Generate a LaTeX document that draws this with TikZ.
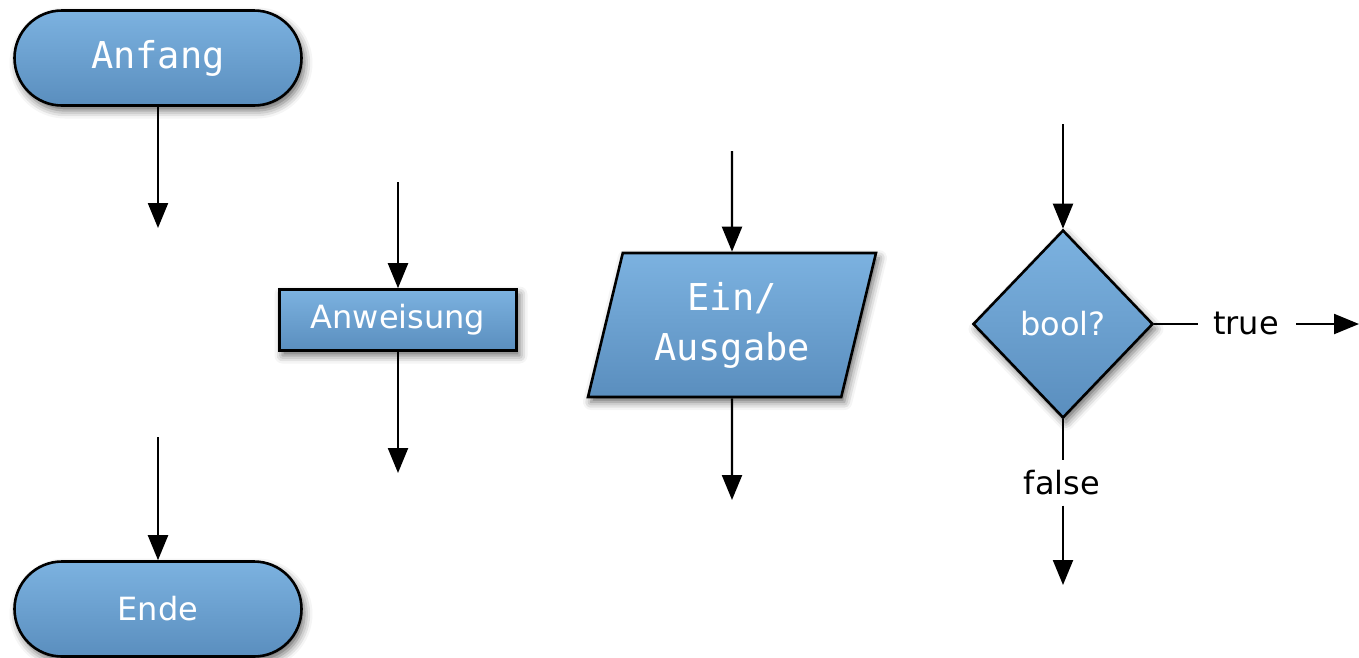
\documentclass[tikz,border=0pt]{standalone}
\usepackage{fontspec}
\setmainfont{DejaVu Sans}
\newfontfamily\monofont{DejaVu Sans Mono}
\usetikzlibrary{arrows.meta,shapes.geometric,shapes.misc,shadows.blur}
\definecolor{boxtop}{RGB}{124,178,224}
\definecolor{boxmid}{RGB}{94,147,195}
\definecolor{boxbot}{RGB}{90,142,190}
\tikzset{
  flowbox/.style={draw=black, line width=2.6pt, text=white,
    top color=boxtop, middle color=boxmid, bottom color=boxbot,
    blur shadow={shadow xshift=3pt, shadow yshift=-5pt,
      shadow blur radius=8pt, shadow opacity=60}},
  terminal/.style={flowbox, rounded rectangle, minimum width=287pt,
    minimum height=95pt, inner sep=0pt},
  sanslabel/.style={font=\fontsize{32}{38}\selectfont},
  monolabel/.style={font=\monofont\fontsize{37}{50}\selectfont},
  flow/.style={line width=2.2pt, -{Triangle[width=20pt,length=25pt]}},
  plain/.style={line width=2.2pt},
}
\begin{document}
\begin{tikzpicture}[x=1pt,y=-1pt]
\useasboundingbox (0,0) rectangle (1359,657);

% start / end terminals
\node[terminal, monolabel] (start) at (158,58) {Anfang};
\coordinate (startout) at (158,228);
\draw[flow] (start.south) -- (startout);

\coordinate (endin) at (158,437);
\node[terminal, sanslabel] (stop) at (158,609) {Ende};
\draw[flow] (endin) -- (stop.north);

% statement
\node[flowbox, rectangle, minimum width=237pt, minimum height=61pt,
  inner sep=0pt, sanslabel] (stmt) at (398,320) {Anweisung};
\coordinate (stmtin) at (398,182);
\coordinate (stmtout) at (398,473);
\draw[flow] (stmtin) -- (stmt.north);
\draw[flow] (stmt.south) -- (stmtout);

% input / output
\node[flowbox, trapezium, trapezium left angle=68, trapezium right angle=112,
  trapezium stretches body=true, minimum width=288pt, minimum height=144pt,
  inner sep=0pt, align=center, monolabel] (io) at (732,325) {Ein/\\Ausgabe};
\coordinate (ioin) at (732,151);
\coordinate (ioout) at (732,500);
\draw[flow] (ioin) -- (io.north);
\draw[flow] (io.south) -- (ioout);

% decision
\node[flowbox, diamond, minimum width=180pt, minimum height=188pt,
  inner sep=0pt, sanslabel] (dec) at (1063,324) {bool?};
\coordinate (decin) at (1063,124);
\draw[flow] (decin) -- (dec.north);

\node[sanslabel, inner sep=0pt, anchor=base] (yes) at (1246,334) {true};
\coordinate (yesout) at (1359,324);
\draw[plain] (dec.east) -- ([xshift=-15pt]yes.west |- dec.east);
\draw[flow] ([xshift=17pt]yes.east |- yesout) -- (yesout);

\node[sanslabel, inner sep=0pt] (no) at (1062,483) {false};
\coordinate (noout) at (1063,585);
\draw[plain] (dec.south) -- ([yshift=10pt]no.north -| dec.south);
\draw[flow] ([yshift=-10pt]no.south -| noout) -- (noout);
\end{tikzpicture}
\end{document}
